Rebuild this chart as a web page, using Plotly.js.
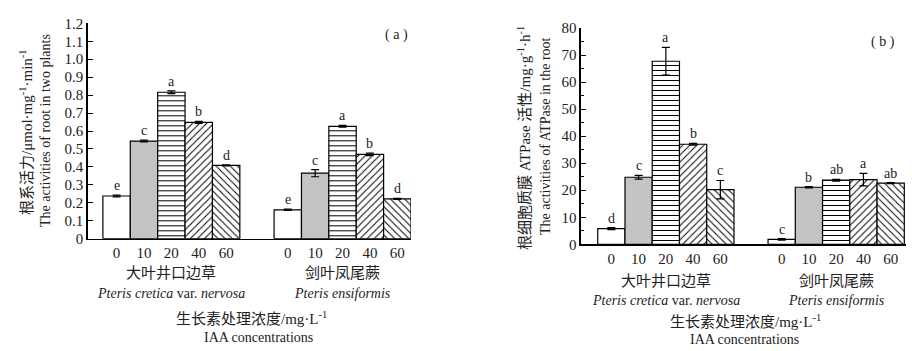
<!DOCTYPE html>
<html>
<head>
<meta charset="utf-8">
<script src="https://cdn.plot.ly/plotly-3.0.1.min.js"></script>
<style>html,body{margin:0;padding:0;background:#fff;}#chart{width:912px;height:351px;}</style>
</head>
<body>
<div id="chart"></div>
<script>
// ---------- data ----------
const concLabels = ['0', '10', '20', '40', '60'];
const speciesCN = ['大叶井口边草', '剑叶凤尾蕨'];
const speciesLatin = ['<i>Pteris cretica</i> var. <i>nervosa</i>', '<i>Pteris ensiformis</i>'];

// (a) root activity, μmol·mg-1·min-1
const rootActPcn = [0.238, 0.544, 0.816, 0.648, 0.409];
const rootActPcnErr = [0.005, 0.005, 0.008, 0.006, 0.003];
const rootActPcnSig = ['e', 'c', 'a', 'b', 'd'];
const rootActPen = [0.161, 0.365, 0.626, 0.470, 0.222];
const rootActPenErr = [0.004, 0.020, 0.005, 0.007, 0.003];
const rootActPenSig = ['e', 'c', 'a', 'b', 'd'];

// (b) root plasma membrane ATPase activity, mg·g-1·h-1
const atpPcn = [5.8, 24.8, 67.7, 37.0, 20.2];
const atpPcnErr = [0.4, 0.7, 5.1, 0.3, 3.4];
const atpPcnSig = ['d', 'c', 'a', 'b', 'c'];
const atpPen = [1.8, 21.1, 23.7, 23.9, 22.6];
const atpPenErr = [0.3, 0.2, 0.3, 2.3, 0.2];
const atpPenSig = ['c', 'b', 'ab', 'a', 'ab'];

const yTicksA = [0, 0.1, 0.2, 0.3, 0.4, 0.5, 0.6, 0.7, 0.8, 0.9, 1.0, 1.1, 1.2];
const yTickTextA = ['0', '0.1', '0.2', '0.3', '0.4', '0.5', '0.6', '0.7', '0.8', '0.9', '1.0', '1.1', '1.2'];

// ---------- styles ----------
const W = 912, H = 351;
const px = v => v / W;
const py = v => 1 - v / H;
const SERIF = '"Liberation Serif", "Times New Roman", "Noto Sans CJK SC", serif';
const BW = 0.16; // bar width in category units
const barStyles = [
  {color: '#ffffff', shape: ''},
  {color: '#c4c4c4', shape: ''},
  {color: '#ffffff', shape: '-'},
  {color: '#ffffff', shape: '/'},
  {color: '#ffffff', shape: '\\'}
];
const offset = i => (i - 2) * BW;

function makeTraces(v1, e1, v2, e2, xa, ya) {
  return concLabels.map((c, i) => ({
    type: 'bar',
    x: [0 + offset(i), 1 + offset(i)],
    y: [v1[i], v2[i]],
    width: BW,
    xaxis: xa, yaxis: ya,
    showlegend: false,
    marker: {
      color: barStyles[i].color,
      line: {color: '#000', width: 1.2},
      pattern: {shape: barStyles[i].shape, fgcolor: '#000', bgcolor: '#fff', size: 5, solidity: 0.2, fillmode: 'replace'}
    },
    error_y: {type: 'data', array: [e1[i], e2[i]], visible: true, color: '#000', thickness: 1.2, width: 4},
    hoverinfo: 'skip'
  }));
}

const data = [].concat(
  makeTraces(rootActPcn, rootActPcnErr, rootActPen, rootActPenErr, 'x', 'y'),
  makeTraces(atpPcn, atpPcnErr, atpPen, atpPenErr, 'x2', 'y2')
);

const tickPos = [];
const tickTxt = [];
[0, 1].forEach(g => concLabels.forEach((c, i) => { tickPos.push(g + offset(i)); tickTxt.push(c); }));

const annotations = [];
function sigLetters(vals, errs, sig, g, xa, ya) {
  vals.forEach((v, i) => annotations.push({
    xref: xa, yref: ya, x: g + offset(i), y: v + errs[i], text: sig[i],
    showarrow: false, yanchor: 'bottom', xanchor: 'center', yshift: 0,
    font: {family: SERIF, size: 14, color: '#222'}
  }));
}
sigLetters(rootActPcn, rootActPcnErr, rootActPcnSig, 0, 'x', 'y');
sigLetters(rootActPen, rootActPenErr, rootActPenSig, 1, 'x', 'y');
sigLetters(atpPcn, atpPcnErr, atpPcnSig, 0, 'x2', 'y2');
sigLetters(atpPen, atpPenErr, atpPenSig, 1, 'x2', 'y2');

function txt(xref, x, y, text, size, extra) {
  annotations.push(Object.assign({xref: xref, yref: 'paper', x: x, y: py(y), text: text, showarrow: false,
    xanchor: 'center', yanchor: 'middle', font: {family: SERIF, size: size, color: '#222'}}, extra || {}));
}
// species labels
[0, 1].forEach(g => {
  txt('x', g, 273, speciesCN[g], 15);
  txt('x', g, 293, speciesLatin[g], 14);
  txt('x2', g, 281, speciesCN[g], 15);
  txt('x2', g, 300, speciesLatin[g], 14);
});
// x axis titles
txt('paper', px(251), 318, '生长素处理浓度/mg·L<sup>-1</sup>', 15);
txt('paper', px(258), 337, 'IAA concentrations', 14);
txt('paper', px(745), 321, '生长素处理浓度/mg·L<sup>-1</sup>', 15);
txt('paper', px(744), 339, 'IAA concentrations', 14);
// y axis titles
txt('paper', px(26), 132, '根系活力/μmol·mg<sup>-1</sup>·min<sup>-1</sup>', 15, {textangle: -90});
txt('paper', px(46), 131, 'The activities of root in two plants', 14, {textangle: -90});
txt('paper', px(524), 138, '根细胞质膜 ATPase 活性/mg·g<sup>-1</sup>·h<sup>-1</sup>', 15, {textangle: -90});
txt('paper', px(545), 136, 'The activities of ATPase in the root', 14, {textangle: -90});
// panel tags
txt('paper', px(396), 35, '( a )', 14);
txt('paper', px(883), 42, '( b )', 14);

const xCommon = {
  showline: true, linecolor: '#000', linewidth: 1.3, ticks: '', showgrid: false, zeroline: false,
  tickmode: 'array', tickvals: tickPos, ticktext: tickTxt,
  tickfont: {family: SERIF, size: 15, color: '#222'}
};
const yCommon = {
  showline: true, linecolor: '#000', linewidth: 1.3, ticks: 'inside', ticklen: 5, tickcolor: '#000',
  tickwidth: 1, showgrid: false, zeroline: false,
  tickfont: {family: SERIF, size: 15, color: '#222'}
};

const layout = {
  width: W, height: H,
  margin: {l: 0, r: 0, t: 0, b: 0},
  paper_bgcolor: '#fff', plot_bgcolor: 'rgba(0,0,0,0)',
  barmode: 'overlay',
  showlegend: false,
  xaxis: Object.assign({}, xCommon, {domain: [px(87.5), px(411)], range: [-0.49, 1.4], anchor: 'y'}),
  yaxis: Object.assign({}, yCommon, {domain: [py(238.7), py(23.3)], range: [0, 1.2], anchor: 'x',
    tickmode: 'array', tickvals: yTicksA, ticktext: yTickTextA}),
  xaxis2: Object.assign({}, xCommon, {domain: [px(580.7), px(906)], range: [-0.5, 1.41], anchor: 'y2'}),
  yaxis2: Object.assign({}, yCommon, {domain: [py(244.3), py(28)], range: [0, 80], anchor: 'x2', dtick: 10,
    minor: {ticks: 'inside', ticklen: 3, dtick: 5, tickcolor: '#000', tickwidth: 1}}),
  annotations: annotations
};

Plotly.newPlot('chart', data, layout, {staticPlot: true, displayModeBar: false});
</script>
</body>
</html>
